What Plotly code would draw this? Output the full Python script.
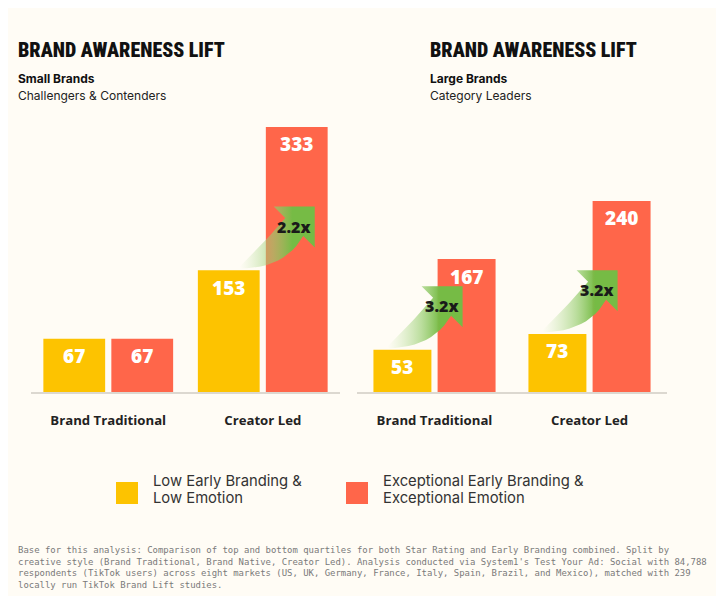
import plotly.graph_objects as go

# data
categories = ["Brand Traditional", "Creator Led"]
small_low = [67, 153]
small_exc = [67, 333]
large_low = [53, 73]
large_exc = [167, 240]
small_lift = ["", "2.2x"]
large_lift = ["3.2x", "3.2x"]
series_names = [["Low Early Branding &", "Low Emotion"],
                ["Exceptional Early Branding &", "Exceptional Emotion"]]
panel_titles = ["BRAND AWARENESS LIFT", "BRAND AWARENESS LIFT"]
panel_sub1 = ["Small Brands", "Large Brands"]
panel_sub2 = ["Challengers & Contenders", "Category Leaders"]
footnote = ("Base for this analysis: Comparison of top and bottom quartiles for both Star Rating and Early Branding combined. Split by<br>"
            "creative style (Brand Traditional, Brand Native, Creator Led). Analysis conducted via System1's Test Your Ad: Social with 84,788<br>"
            "respondents (TikTok users) across eight markets (US, UK, Germany, France, Italy, Spain, Brazil, and Mexico), matched with 239<br>"
            "locally run TikTok Brand Lift studies.")

# page has an 8px body margin, figure sits inside it
PAD = 8
W, H = 724 - 2 * PAD, 604 - 2 * PAD
BG = "#fffcf5"
YELLOW = "#fdc300"
RED = "#ff664a"
GREEN = "#76bb45"
YMAX = 370
TITLE_FONT = "Noto Sans ExtraCondensed, Noto Sans Condensed, Roboto Condensed, DejaVu Sans Condensed, sans-serif"


def px(x):
    return (x - PAD) / W


def py(y):
    return 1 - (y - PAD) / H


panels = [
    dict(low=small_low, exc=small_exc, lift=small_lift, xd=(31, 340), bw=0.40, tx=18, tipdx=18),
    dict(low=large_low, exc=large_exc, lift=large_lift, xd=(357, 667), bw=0.374, tx=430, tipdx=-4),
]
ydom = (py(392), py(97.5))
ppy = (ydom[1] - ydom[0]) * H / YMAX

fig = go.Figure()
annotations = []
gap = 0.04


def arrow_xy(tx, ty, ppx):
    # curved arrow outline in pixel offsets from the tip (dy positive = down)
    pts = [(0, 0), (0, 41), (-11.5, 29.5)]
    p0, c, p1 = (-11.5, 29.5), (-30, 62), (-75, 62)
    for i in range(1, 13):
        t = i / 12
        pts.append(((1 - t) ** 2 * p0[0] + 2 * (1 - t) * t * c[0] + t ** 2 * p1[0],
                    (1 - t) ** 2 * p0[1] + 2 * (1 - t) * t * c[1] + t ** 2 * p1[1]))
    p0, c, p1 = (-75, 60), (-52, 38), (-29.5, 11.5)
    for i in range(0, 13):
        t = i / 12
        pts.append(((1 - t) ** 2 * p0[0] + 2 * (1 - t) * t * c[0] + t ** 2 * p1[0],
                    (1 - t) ** 2 * p0[1] + 2 * (1 - t) * t * c[1] + t ** 2 * p1[1]))
    pts += [(-41, 0), (0, 0)]
    xs = [tx + dx / ppx for dx, dy in pts]
    ys = [ty - dy / ppy for dx, dy in pts]
    return xs, ys


for k, p in enumerate(panels):
    sx = "" if k == 0 else str(k + 1)
    xa, ya = "x" + sx, "y" + sx
    ppx = (p["xd"][1] - p["xd"][0]) / 2
    bw = p["bw"]
    offs = [-(bw + gap / 2), gap / 2]
    for j, (vals, col) in enumerate([(p["low"], YELLOW), (p["exc"], RED)]):
        fig.add_trace(go.Bar(x=list(range(len(categories))), y=vals, width=bw, offset=offs[j],
                             marker=dict(color=col, line=dict(width=0)), xaxis=xa, yaxis=ya,
                             showlegend=False, hoverinfo="skip"))
        for i, v in enumerate(vals):
            annotations.append(dict(x=i + offs[j] + bw / 2, y=v, xref=xa, yref=ya, text=str(v),
                                    showarrow=False, yanchor="middle", yshift=-17.5,
                                    font=dict(family="Open Sans", size=19, color="white", weight=800)))
    # lift arrows
    for i, lab in enumerate(p["lift"]):
        if not lab:
            continue
        tipx = i + offs[1] + bw / 2 + p["tipdx"] / ppx
        tipy = p["low"][i] + 80
        xs, ys = arrow_xy(tipx, tipy, ppx)
        fig.add_trace(go.Scatter(x=xs, y=ys, mode="lines", line=dict(width=0), fill="toself",
                                 fillgradient=dict(type="horizontal",
                                                   colorscale=[[0, "rgba(190,225,160,0)"],
                                                               [0.45, "rgba(150,205,110,0.65)"],
                                                               [0.7, GREEN], [1, GREEN]]),
                                 xaxis=xa, yaxis=ya, showlegend=False, hoverinfo="skip"))
        annotations.append(dict(x=tipx, y=tipy, xref=xa, yref=ya, text=lab, showarrow=False,
                                xshift=-21, yshift=-20,
                                font=dict(family="Open Sans", size=16, color="#1a1a1a", weight=800)))
    axis_x = dict(domain=[px(p["xd"][0]), px(p["xd"][1])], range=[-0.5, 1.5],
                  tickvals=list(range(len(categories))), ticktext=categories,
                  showline=True, linecolor="#dcd8d0", linewidth=1.5, showgrid=False,
                  zeroline=False, ticks="", ticklabelstandoff=15, fixedrange=True, anchor=ya,
                  tickfont=dict(family="Open Sans", size=13.2, color="#222222", weight="bold"))
    axis_y = dict(domain=list(ydom), range=[0, YMAX], visible=False, fixedrange=True, anchor=xa)
    fig.update_layout(**{"xaxis" + sx: axis_x, "yaxis" + sx: axis_y})

    # panel titles
    tx = p["tx"] - 2
    annotations.append(dict(x=px(tx), y=py(50), xref="paper", yref="paper",
                            text=panel_titles[k], showarrow=False, xanchor="left", yanchor="middle",
                            font=dict(family=TITLE_FONT, size=20, color="#111111", weight=900)))
    annotations.append(dict(x=px(tx), y=py(78), xref="paper", yref="paper",
                            text=panel_sub1[k], showarrow=False, xanchor="left", yanchor="middle",
                            font=dict(family="Inter", size=12, color="#111111", weight="bold")))
    annotations.append(dict(x=px(tx), y=py(95), xref="paper", yref="paper",
                            text=panel_sub2[k], showarrow=False, xanchor="left", yanchor="middle",
                            font=dict(family="Inter", size=12, color="#222222")))

# legend
shapes = []
for j, (col, sq, tx) in enumerate([(YELLOW, 116, 151), (RED, 346, 381)]):
    shapes.append(dict(type="rect", xref="paper", yref="paper", x0=px(sq), x1=px(sq + 22),
                       y0=py(504), y1=py(482), fillcolor=col, line=dict(width=0)))
    for li, line in enumerate(series_names[j]):
        annotations.append(dict(x=px(tx), y=py(481 + 17 * li), xref="paper", yref="paper",
                                text=line, showarrow=False, xanchor="left", yanchor="middle",
                                font=dict(family="Inter", size=14.8, color="#333333")))

annotations.append(dict(x=px(16), y=py(543), xref="paper", yref="paper", text=footnote,
                        showarrow=False, xanchor="left", yanchor="top", align="left",
                        font=dict(family="DejaVu Sans Mono", size=8.95, color="#7a7a7a")))

fig.update_layout(width=W, height=H, margin=dict(l=0, r=0, t=0, b=0),
                  paper_bgcolor=BG, plot_bgcolor=BG, barmode="overlay",
                  annotations=annotations, shapes=shapes, showlegend=False)

fig.write_html("out.html")
